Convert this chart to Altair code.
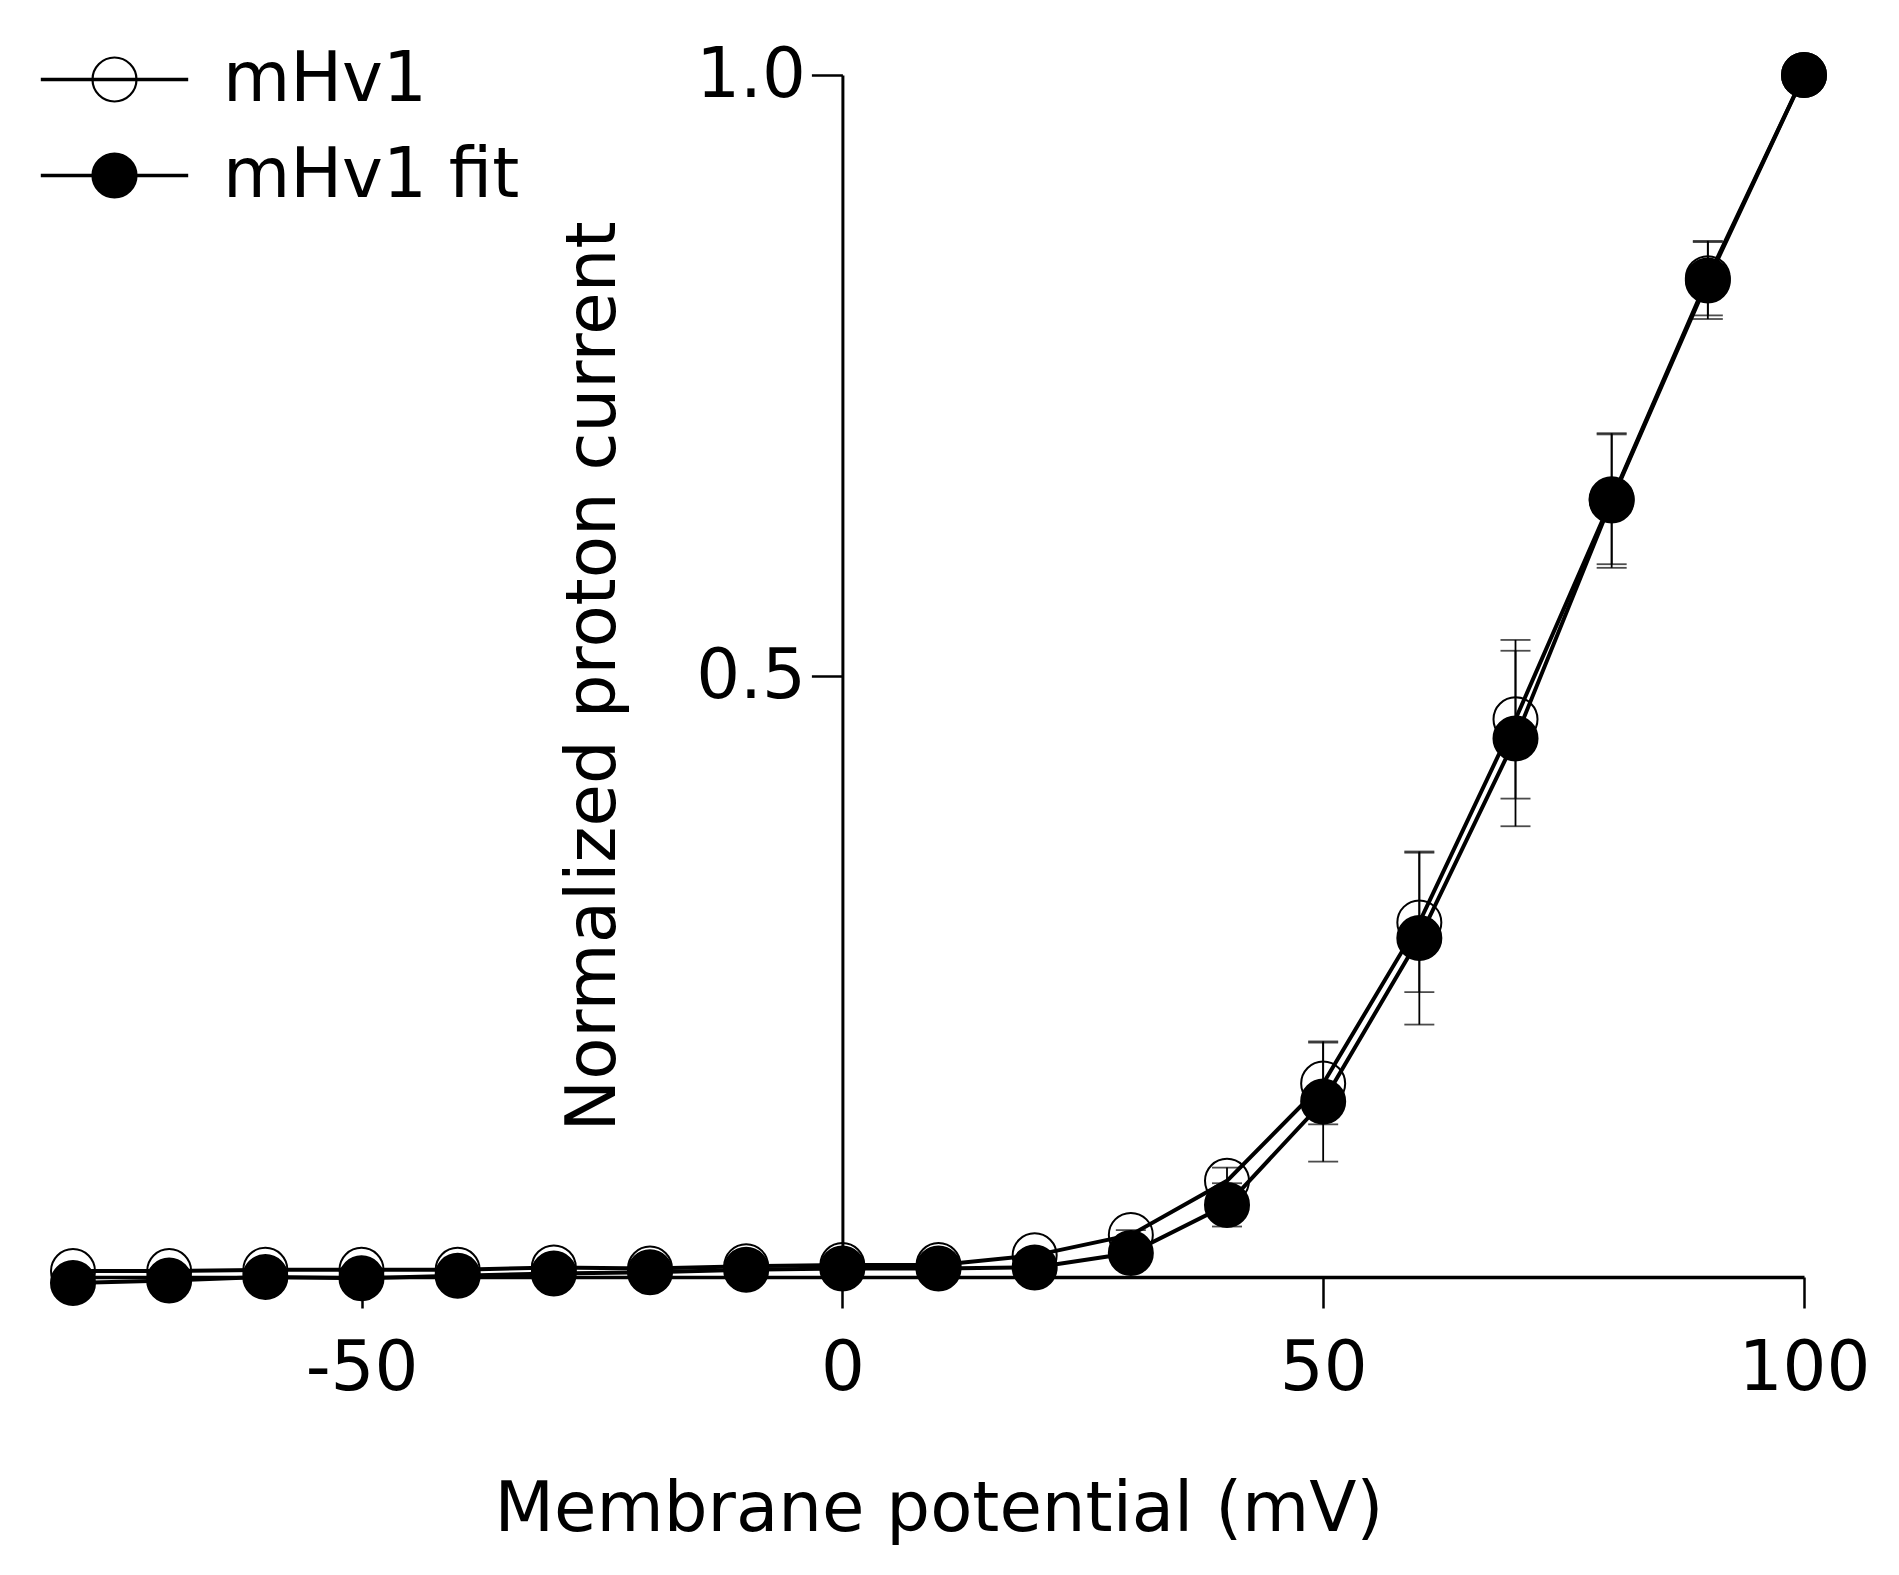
import altair as alt
import pandas as pd

# ---- data ----
voltage = [-80, -70, -60, -50, -40, -30, -20, -10, 0, 10, 20, 30, 40, 50, 60, 70, 80, 90, 100]
mhv1 = [0.005, 0.005, 0.006, 0.006, 0.006, 0.008, 0.007, 0.009, 0.010, 0.010,
        0.018, 0.035, 0.080, 0.161, 0.295, 0.464, 0.647, 0.831, 1.0]
mhv1_err = [0.002, 0.002, 0.002, 0.002, 0.002, 0.002, 0.002, 0.002, 0.002, 0.002,
            0.003, 0.004, 0.011, 0.034, 0.058, 0.066, 0.054, 0.031, 0.0]
fit = [-0.005, -0.003, 0.000, -0.001, 0.001, 0.003, 0.004, 0.006, 0.007, 0.007,
       0.008, 0.020, 0.060, 0.146, 0.282, 0.448, 0.646, 0.829, 1.0]
fit_err = [0.002, 0.002, 0.002, 0.002, 0.002, 0.002, 0.002, 0.002, 0.002, 0.002,
           0.003, 0.006, 0.018, 0.050, 0.072, 0.073, 0.056, 0.032, 0.0]
series_names = ["mHv1", "mHv1 fit"]
x_ticks = [-50, 0, 50, 100]
y_ticks = [0.5, 1.0]

rows = []
for name, vals, errs in [(series_names[0], mhv1, mhv1_err), (series_names[1], fit, fit_err)]:
    for v, y, e in zip(voltage, vals, errs):
        rows.append({"series": name, "v": v, "y": y, "err": e})
df = pd.DataFrame(rows)

FONT = "DejaVu Sans"
W, H = 1731, 1202

xs = alt.Scale(domain=[-80, 100], nice=False, zero=False)
ys = alt.Scale(domain=[0, 1], nice=False, zero=False)

x_axis = alt.Axis(values=x_ticks, labelExpr="'' + datum.value",
                  title="Membrane potential (mV)", grid=False,
                  domainColor="black", domainWidth=3.5, tickColor="black", tickWidth=2.5,
                  tickSize=31, labelFontSize=69, labelFont=FONT, labelColor="black",
                  labelPadding=26, labelFlush=False, titleFontSize=69, titleFont=FONT,
                  titleFontWeight="normal", titleColor="black", titlePadding=72)
y_axis = alt.Axis(values=y_ticks, format=".1f", title="Normalized proton current",
                  grid=False, offset=-769.4, domainColor="black", domainWidth=3,
                  tickColor="black", tickWidth=2.5, tickSize=31, labelFontSize=69,
                  labelFont=FONT, labelColor="black", labelPadding=6, labelFlush=False,
                  titleFontSize=69, titleFont=FONT, titleFontWeight="normal",
                  titleColor="black", titlePadding=67)

base = alt.Chart(df)

legend_path = ("M-3.3,-0.03L3.3,-0.03L3.3,0.03L-3.3,0.03Z"
               "M-1,0A1,1,0,1,0,1,0A1,1,0,1,0,-1,0Z")

bars = base.transform_filter("datum.err > 0").transform_calculate(
    lo="datum.y - datum.err", hi="datum.y + datum.err")

rule = bars.mark_rule(color="black", strokeWidth=1.8).encode(
    x=alt.X("v:Q", scale=xs, axis=x_axis),
    y=alt.Y("lo:Q", scale=ys, axis=y_axis),
    y2="hi:Q",
)
cap_lo = bars.mark_tick(orient="horizontal", size=30, thickness=1.8, color="black").encode(
    x=alt.X("v:Q", scale=xs), y=alt.Y("lo:Q", scale=ys))
cap_hi = bars.mark_tick(orient="horizontal", size=30, thickness=1.8, color="black").encode(
    x=alt.X("v:Q", scale=xs), y=alt.Y("hi:Q", scale=ys))

lines = base.mark_line(color="black", strokeWidth=4).encode(
    x=alt.X("v:Q", scale=xs),
    y=alt.Y("y:Q", scale=ys),
    detail="series:N",
)

points = base.mark_point(shape="circle", size=1936, stroke="black", strokeWidth=2,
                         opacity=1, fillOpacity=1).encode(
    x=alt.X("v:Q", scale=xs),
    y=alt.Y("y:Q", scale=ys),
    fill=alt.Fill("series:N",
                  scale=alt.Scale(domain=series_names, range=["transparent", "black"]),
                  legend=alt.Legend(orient="none", legendX=7, legendY=-30, title=None,
                                    symbolType=legend_path, symbolSize=1936,
                                    symbolStrokeColor="black", symbolStrokeWidth=2.2,
                                    labelFontSize=69, labelFont=FONT, labelColor="black",
                                    labelOffset=74, labelLimit=1000, rowPadding=26,
                                    padding=0)),
)

chart = alt.layer(rule, cap_lo, cap_hi, lines, points).properties(
    width=W, height=H,
    autosize=alt.AutoSizeParams(type="none"),
    padding={"left": 65, "top": 67, "right": 80, "bottom": 290},
).configure(background="white").configure_view(stroke=None).configure_axis(grid=False)

chart.save("out.html", embed_options={"renderer": "svg", "actions": False})
